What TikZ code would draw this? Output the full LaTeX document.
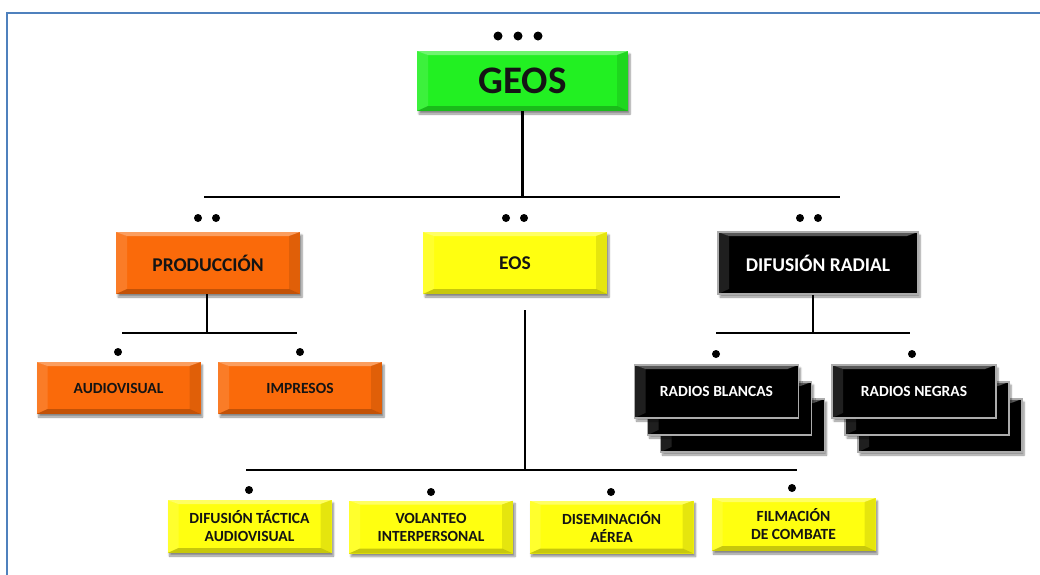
\documentclass[tikz,border=0pt]{standalone}
\usepackage{fontspec}
\setmainfont{Carlito}
\usetikzlibrary{shadows.blur}
\definecolor{frameblue}{HTML}{4F81BD}
\definecolor{geosgreen}{HTML}{22F022}
\definecolor{prodorange}{HTML}{FA6A0A}
\definecolor{eosyellow}{HTML}{FFFF10}
\definecolor{inkdark}{HTML}{141414}

\tikzset{
  bevel/.style={path picture={
    \fill[white, opacity=0.35] (path picture bounding box.north west) -- (path picture bounding box.north east)
      -- ([xshift=-11pt, yshift=-4pt]path picture bounding box.north east) -- ([xshift=11pt, yshift=-4pt]path picture bounding box.north west) -- cycle;
    \fill[white, opacity=0.12] (path picture bounding box.north west) -- ([xshift=11pt, yshift=-4pt]path picture bounding box.north west)
      -- ([xshift=11pt, yshift=5pt]path picture bounding box.south west) -- (path picture bounding box.south west) -- cycle;
    \fill[black, opacity=0.10] (path picture bounding box.north east) -- ([xshift=-11pt, yshift=-4pt]path picture bounding box.north east)
      -- ([xshift=-11pt, yshift=5pt]path picture bounding box.south east) -- (path picture bounding box.south east) -- cycle;
    \fill[black, opacity=0.22] (path picture bounding box.south west) -- (path picture bounding box.south east)
      -- ([xshift=-11pt, yshift=5pt]path picture bounding box.south east) -- ([xshift=11pt, yshift=5pt]path picture bounding box.south west) -- cycle;
  }},
  unitbox/.style={rectangle, draw=none, inner sep=0pt, align=center, font=\bfseries, text=inkdark, bevel,
    blur shadow={shadow xshift=2pt, shadow yshift=-3pt, shadow blur steps=6, shadow opacity=45}},
  topbox/.style={unitbox, fill=geosgreen, minimum width=211pt, minimum height=60pt, font=\fontsize{39}{44}\selectfont\bfseries},
  midbox/.style={unitbox, minimum width=184pt, minimum height=62pt, font=\fontsize{19.5}{22}\selectfont\bfseries},
  lowbox/.style={unitbox, minimum width=164pt, minimum height=53pt, font=\fontsize{15.5}{18}\selectfont\bfseries},
  blackbox/.style={lowbox, fill=black, text=white, draw=gray!65, line width=1.6pt},
  conn/.style={draw=black, line width=2.4pt},
  dot/.style={circle, fill=black, inner sep=0pt, minimum size=8pt},
}

\begin{document}
\begin{tikzpicture}[x=1pt, y=-1pt]
\useasboundingbox (0,0) rectangle (1040,574);

% frame
\draw[frameblue, line width=2.5pt] (7,580) -- (7,13) -- (1045,13);

% GEOS
\node[topbox] (geos) at (522.5,81) {GEOS};
\node[dot, minimum size=9pt] (gd1) at (498,36) {};
\node[dot, minimum size=9pt] (gd2) at (518,36) {};
\node[dot, minimum size=9pt] (gd3) at (538,36) {};

% second level
\node[midbox, fill=prodorange] (prod) at (208,263) {PRODUCCIÓN};
\node[midbox, fill=eosyellow] (eos) at (515,263) {EOS};
\node[midbox, fill=black, text=white, draw=gray!65, line width=1.6pt, minimum width=200pt] (difrad) at (818,263) {DIFUSIÓN RADIAL};
\node[dot] (pd1) at (198,218) {};
\node[dot] (pd2) at (216,218) {};
\node[dot] (ed1) at (506,218) {};
\node[dot] (ed2) at (524,218) {};
\node[dot] (rd1) at (800,218) {};
\node[dot] (rd2) at (818,218) {};

\coordinate (busL) at (204,197);
\coordinate (busR) at (840,197);
\draw[conn] (geos.south) -- (geos.south |- busL);
\draw[conn] (busL) -- (busR);

% produccion branch
\node[lowbox, fill=prodorange, minimum height=52pt] (audio) at (118.5,388) {AUDIOVISUAL};
\node[lowbox, fill=prodorange, minimum height=52pt] (impresos) at (300,388) {IMPRESOS};
\node[dot] (ad) at (118,352) {};
\node[dot] (id) at (300,352) {};
\coordinate (pbusL) at (122,333);
\coordinate (pbusR) at (297,333);
\draw[conn] ([xshift=-1pt]prod.south) -- ([xshift=-1pt]prod.south |- pbusL);
\draw[conn] (pbusL) -- (pbusR);

% difusion radial branch
\node[blackbox] (rblancas3) at (742.5,425.5) {};
\node[blackbox] (rblancas2) at (729.5,408.5) {};
\node[blackbox] (rblancas) at (716.5,391.5) {RADIOS BLANCAS};
\node[blackbox] (rnegras3) at (940,425.5) {};
\node[blackbox] (rnegras2) at (927,408.5) {};
\node[blackbox] (rnegras) at (914,391.5) {RADIOS NEGRAS};
\node[dot] (bd) at (716,354) {};
\node[dot] (nd) at (912,354) {};
\coordinate (rbusL) at (716,333);
\coordinate (rbusR) at (910,333);
\draw[conn] ([xshift=-5pt]difrad.south) -- ([xshift=-5pt]difrad.south |- rbusL);
\draw[conn] (rbusL) -- (rbusR);

% eos branch
\node[lowbox, fill=eosyellow] (dta) at (249.5,526.5) {DIFUSIÓN TÁCTICA\\AUDIOVISUAL};
\node[lowbox, fill=eosyellow] (volanteo) at (431,527) {VOLANTEO\\INTERPERSONAL};
\node[lowbox, fill=eosyellow] (disem) at (611.5,527) {DISEMINACIÓN\\AÉREA};
\node[lowbox, fill=eosyellow] (filmacion) at (793.5,524.5) {FILMACIÓN\\DE COMBATE};
\node[dot] (fd1) at (249,490) {};
\node[dot] (fd2) at (431,492) {};
\node[dot] (fd3) at (611,492) {};
\node[dot] (fd4) at (792,488) {};
\coordinate (ebusL) at (246,470);
\coordinate (ebusR) at (797,470);
\draw[conn] ([xshift=10pt, yshift=-16pt]eos.south) -- ([xshift=10pt]eos.south |- ebusL);
\draw[conn] (ebusL) -- (ebusR);

\end{tikzpicture}
\end{document}
